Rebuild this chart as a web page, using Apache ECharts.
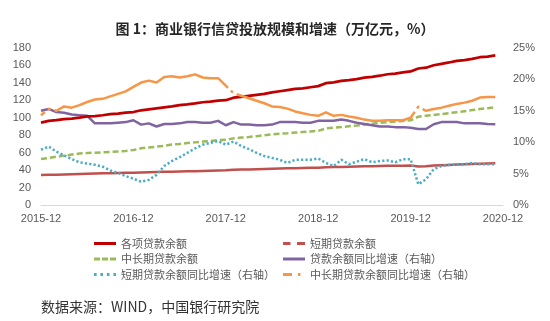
<!DOCTYPE html>
<html><head><meta charset="utf-8">
<script src="https://cdn.jsdelivr.net/npm/echarts@6/dist/echarts.min.js"></script>
<style>html,body{margin:0;padding:0;background:#fff}#c{width:550px;height:321px}</style>
</head><body><div id="c"></div>
<script>
var months = ['2015-12',
'2016-01','2016-02','2016-03','2016-04','2016-05','2016-06','2016-07','2016-08','2016-09','2016-10','2016-11','2016-12',
'2017-01','2017-02','2017-03','2017-04','2017-05','2017-06','2017-07','2017-08','2017-09','2017-10','2017-11','2017-12',
'2018-01','2018-02','2018-03','2018-04','2018-05','2018-06','2018-07','2018-08','2018-09','2018-10','2018-11','2018-12',
'2019-01','2019-02','2019-03','2019-04','2019-05','2019-06','2019-07','2019-08','2019-09','2019-10','2019-11','2019-12',
'2020-01','2020-02','2020-03','2020-04','2020-05','2020-06','2020-07','2020-08','2020-09','2020-10','2020-11','2020-12'];
var xTickLabels = ['2015-12','2016-12','2017-12','2018-12','2019-12','2020-12'];
var leftTicks = [0,20,40,60,80,100,120,140,160,180];
var rightTicks = ['0%','5%','10%','15%','20%','25%'];

var names = ['各项贷款余额','短期贷款余额','中长期贷款余额','贷款余额同比增速（右轴）','短期贷款余额同比增速（右轴）','中长期贷款余额同比增速（右轴）'];

var totalLoans = [94.4,
96.5,97.2,98.5,99.1,100.1,101.5,101.9,102.9,104.1,104.8,105.9,106.6,
108.6,109.6,110.7,111.8,113.0,114.6,115.4,116.5,117.8,118.4,119.6,120.1,
123.0,123.9,125.0,126.2,127.3,129.1,130.4,131.7,133.1,133.8,135.0,136.3,
139.6,140.5,142.2,143.2,144.4,146.1,147.0,148.2,149.9,150.6,152.0,153.1,
156.5,157.4,160.2,161.9,163.4,165.2,166.2,167.5,169.4,170.1,171.6];
var shortLoans = [34.4,
34.6,34.8,35.0,35.3,35.5,35.8,36.0,36.3,36.5,36.7,36.9,37.1,
37.3,37.5,37.8,38.0,38.2,38.4,38.6,38.8,39.0,39.3,39.5,39.8,
40.3,40.6,40.8,41.0,41.2,41.5,41.8,42.0,42.2,42.4,42.6,42.8,
43.3,43.5,43.7,43.9,44.1,44.3,44.5,44.7,44.9,45.0,45.1,45.3,
44.2,44.3,45.3,45.6,46.0,46.4,46.7,47.0,47.3,47.5,47.8];
var longLoans = [52.7,
54.0,55.3,56.6,57.8,59.0,59.5,60.0,60.4,60.9,61.4,62.0,63.0,
65.0,66.0,66.9,67.8,69.3,70.0,71.0,71.8,72.7,73.4,74.3,74.7,
76.4,77.3,78.0,78.9,80.0,80.9,81.8,82.3,83.0,83.8,84.4,84.9,
87.8,88.6,89.3,90.3,91.0,92.2,93.2,94.3,95.0,95.7,96.4,97.1,
101.3,102.4,103.3,104.2,105.3,106.4,107.6,108.8,110.1,111.0,112.0];
var loanGrowth = [15.0,
15.3,14.8,14.7,14.4,14.3,14.2,13.0,13.0,13.0,13.1,13.2,13.5,
12.8,13.0,12.5,12.9,12.9,13.0,13.2,13.2,13.1,13.1,13.4,12.7,
13.2,12.8,12.8,12.7,12.7,12.8,13.2,13.2,13.2,13.1,13.1,13.4,
13.4,13.4,13.6,13.4,13.1,12.9,12.7,12.5,12.5,12.4,12.4,12.3,
12.1,12.1,12.85,13.2,13.2,13.2,13.0,13.0,13.0,12.9,12.85];
var shortGrowth = [8.8,
9.3,8.5,7.9,7.3,6.8,6.6,6.4,6.1,5.5,5.1,4.6,4.2,
3.7,4.0,4.8,6.2,7.0,7.6,8.3,9.0,9.6,9.9,10.2,9.6,
10.1,9.4,8.9,8.3,7.8,7.5,7.2,6.7,7.2,7.2,7.2,7.4,
6.7,6.2,7.2,6.5,6.9,7.3,6.8,7.0,7.1,6.8,7.3,7.3,
3.3,4.1,5.7,6.2,6.4,6.4,6.5,6.7,6.5,6.5,6.5];
var longGrowth = [14.3,
15.3,15.0,15.7,15.5,15.9,16.4,16.8,16.9,17.3,17.7,18.1,18.8,
19.5,19.8,19.5,20.4,20.5,20.3,20.5,20.8,20.3,20.2,20.2,19.0,
17.8,17.4,17.0,16.6,16.2,15.7,15.6,15.35,14.9,14.6,14.35,14.2,
14.75,14.2,14.35,14.1,13.9,13.6,13.4,13.4,13.5,13.5,13.5,13.9,
15.65,15.0,15.3,15.5,15.8,16.1,16.3,16.6,17.1,17.2,17.2];

var colors = ['#C00000','#C0504D','#9BBB59','#8064A2','#4BACC6','#F79646'];
var FONT = 'Noto Sans CJK SC';
var LABF = 'Liberation Sans';

// legend glyphs, each 22 x 3
var icons = [
  'path://M0,0H22V3H0Z',
  'path://M0,0H7.5V3H0Z M14,0H22V3H14Z',
  'path://M0,0H6V3H0Z M8,0H14V3H8Z M16,0H22V3H16Z',
  'path://M0,0H22V3H0Z',
  'path://M0,0H2.6V3H0Z M6.4,0H9V3H6.4Z M12.9,0H15.5V3H12.9Z M19.4,0H22V3H19.4Z',
  'path://M0,0H9V3H0Z M15,0H17.5V3H15Z M22,1.4H22.01V1.6H22Z'
];

function mk(i, data, yIdx, lw, type, z, off){
  return {name: names[i], type:'line', data:data, yAxisIndex:yIdx, symbol:'none', z:z,
    lineStyle:{color:colors[i], width:lw, type:type, dashOffset: off || 0, cap:'butt', join:'round'},
    itemStyle:{color:colors[i], borderWidth:0}};
}
function li(i){ return {name:names[i], icon:icons[i], itemStyle:{color:colors[i], borderWidth:0}}; }

var chart = echarts.init(document.getElementById('c'), null, {renderer:'canvas'});
chart.setOption({
  animation:false,
  title:[
    {text:'图 1：商业银行信贷投放规模和增速（万亿元，%）', left:'center', top:17,
      textStyle:{fontFamily:FONT, fontSize:14, fontWeight:'bold', color:'#262626'}},
    {text:'数据来源：WIND，中国银行研究院', left:36, top:295,
      textStyle:{fontFamily:FONT, fontSize:14, fontWeight:'normal', color:'#333'}}
  ],
  grid:{left:41, right:47, top:48, bottom:116},
  legend:[
    {orient:'vertical', left:89, top:233, itemGap:4.5, itemWidth:22, itemHeight:3, symbolKeepAspect:false,
      textStyle:{fontFamily:FONT, fontSize:11, color:'#595959'},
      data:[li(0), li(2), li(4)]},
    {orient:'vertical', left:278, top:233, itemGap:4.5, itemWidth:22, itemHeight:3, symbolKeepAspect:false,
      textStyle:{fontFamily:FONT, fontSize:11, color:'#595959'},
      data:[li(1), li(3), li(5)]}
  ],
  xAxis:{type:'category', data:months, boundaryGap:false,
    axisLine:{lineStyle:{color:'#D9D9D9', width:1}}, axisTick:{show:false},
    axisLabel:{interval:11, margin:8, fontFamily:LABF, fontSize:11, color:'#595959',
      formatter:function(v){return xTickLabels.indexOf(v)>=0 ? v : '';}},
    splitLine:{show:false}},
  yAxis:[
    {type:'value', min:leftTicks[0], max:leftTicks[leftTicks.length-1], interval:20,
      axisLine:{show:false}, axisTick:{show:false}, splitLine:{show:false},
      axisLabel:{margin:10, fontFamily:LABF, fontSize:11, color:'#595959'}},
    {type:'value', min:0, max:25, interval:5,
      axisLine:{show:false}, axisTick:{show:false}, splitLine:{show:false},
      axisLabel:{margin:10, fontFamily:LABF, fontSize:11, color:'#595959',
        formatter:function(v){return rightTicks[Math.round(v/5)];}}}
  ],
  series:[
    mk(0, totalLoans, 0, 2.75, 'solid', 6),
    mk(1, shortLoans, 0, 2.5, 'solid', 2),
    mk(2, longLoans, 0, 2.5, [6,3], 3),
    mk(3, loanGrowth, 1, 2.5, 'solid', 4),
    mk(4, shortGrowth, 1, 2.5, [2.2,2.2], 5),
    mk(5, longGrowth, 1, 2.5, [187,4,3,4], 7, -16)
  ]
});
</script></body></html>
